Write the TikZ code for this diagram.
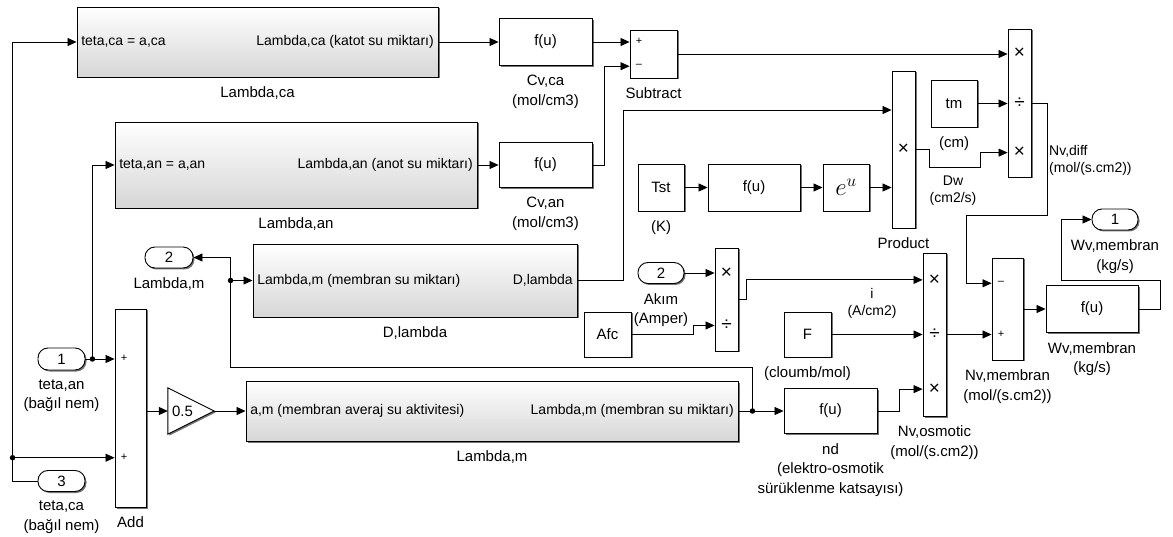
\documentclass[tikz,border=0pt]{standalone}
\usepackage{fontspec}
\setmainfont{Liberation Sans}
\usetikzlibrary{arrows.meta,positioning,calc,shadows}
\newcommand\blkfont{\fontsize{15}{19.5}\selectfont}
\newcommand\sigfont{\fontsize{14}{17}\selectfont}

\begin{document}
\begin{tikzpicture}[x=1pt,y=-1pt,node distance=8pt,>={Triangle[length=9pt,width=8pt]},
  font=\blkfont,
  sz/.style 2 args={minimum width=#1pt,minimum height=#2pt},
  blk/.style={draw,fill=white,line width=0.9pt,inner sep=0pt,
    drop shadow={shadow xshift=1.5pt,shadow yshift=-1.5pt,fill=black!55,opacity=1}},
  sys/.style={blk,top color=white,bottom color=black!16},
  port/.style={blk,rounded corners=10pt,sz={46}{21}},
  ptxt/.style={font=\sigfont,inner sep=4.5pt},
  bname/.style={align=center,inner sep=1pt},
  sig/.style={font=\sigfont,align=center,inner sep=1pt},
  sgn/.style={font=\fontsize{11}{11}\selectfont,inner sep=1pt},
  msgn/.style={font=\fontsize{19}{19}\selectfont,inner sep=0pt},
  dot/.style={circle,fill,inner sep=0pt,minimum size=5.5pt},
  wire/.style={->,line width=0.8pt}]
\useasboundingbox (0,0) rectangle (1173,537);

% subsystems
\node[sys,sz={361}{70}] (lca) at (257.5,42) {};
\node[ptxt,anchor=west] (lca-in) at (lca.west) {teta,ca = a,ca};
\node[ptxt,anchor=east] (lca-out) at (lca.east) {Lambda,ca (katot su miktarı)};
\node[bname,below=of lca] (lca-lbl) {Lambda,ca};

\node[sys,sz={362}{86}] (lan) at (296,165) {};
\node[ptxt,anchor=west] (lan-in) at (lan.west) {teta,an = a,an};
\node[ptxt,anchor=east] (lan-out) at (lan.east) {Lambda,an (anot su miktarı)};
\node[bname,below=of lan] (lan-lbl) {Lambda,an};

\node[sys,sz={324}{73}] (dlam) at (415,280.5) {};
\node[ptxt,anchor=west] (dlam-in) at (dlam.west) {Lambda,m (membran su miktarı)};
\node[ptxt,anchor=east] (dlam-out) at (dlam.east) {D,lambda};
\node[bname,below=of dlam] (dlam-lbl) {D,lambda};

\node[sys,sz={492}{60}] (lm) at (492,411) {};
\node[ptxt,anchor=west] (lm-in) at (lm.west) {a,m (membran averaj su aktivitesi)};
\node[ptxt,anchor=east] (lm-out) at (lm.east) {Lambda,m (membran su miktarı)};
\node[bname,below=of lm] (lm-lbl) {Lambda,m};

% water concentration
\node[blk,sz={93}{47}] (fca) at (545.5,42) {f(u)};
\node[bname,below=of fca] (fca-lbl) {Cv,ca\\(mol/cm3)};
\node[blk,sz={93}{45}] (fan) at (545.5,165) {f(u)};
\node[bname,below=of fan] (fan-lbl) {Cv,an\\(mol/cm3)};
\node[blk,sz={47}{48}] (sub) at (653.5,54) {};
\node[bname,below=of sub] (sub-lbl) {Subtract};

% diffusion
\node[blk,sz={46}{47}] (tst) at (661,187.5) {Tst};
\node[bname,below=of tst] (tst-lbl) {(K)};
\node[blk,sz={92}{47}] (ftst) at (754,187.5) {f(u)};
\node[blk,sz={46}{47},font=\fontsize{25}{25}\selectfont] (eu) at (846,187.5) {$e^{u}$};
\node[blk,sz={23}{157}] (prod) at (903.5,149.5) {};
\node[bname,below=of prod] (prod-lbl) {Product};
\node[blk,sz={46}{47}] (tm) at (954,103.5) {tm};
\node[bname,below=of tm] (tm-lbl) {(cm)};
\node[blk,sz={23}{148}] (nvd) at (1019.5,103) {};

% osmotic drag
\node[port] (akim) at (661,273) {2};
\node[bname,below=of akim] (akim-lbl) {Akım\\(Amper)};
\node[blk,sz={47}{45}] (afc) at (607.5,334.5) {Afc};
\node[blk,sz={23}{103}] (mi) at (726.5,299.5) {};
\node[blk,sz={47}{45}] (fcon) at (807.5,334.5) {F};
\node[bname,below=of fcon] (fcon-lbl) {(cloumb/mol)};
\node[blk,sz={93}{45}] (nd) at (830.5,411) {f(u)};
\node[bname,below=of nd] (nd-lbl) {nd\\(elektro-osmotik\\sürüklenme katsayısı)};
\node[blk,sz={23}{163}] (nvo) at (934.5,334.5) {};
\node[bname,below=of nvo] (nvo-lbl) {Nv,osmotic\\(mol/(s.cm2))};

% membrane flux
\node[blk,sz={31}{102}] (summ) at (1007.5,309) {};
\node[bname,below=of summ] (summ-lbl) {Nv,membran\\(mol/(s.cm2))};
\node[blk,sz={92}{47}] (wv) at (1092,309) {f(u)};
\node[bname,below=of wv] (wv-lbl) {Wv,membran\\(kg/s)};
\node[port] (out1) at (1115,219.5) {1};
\node[bname,below=of out1] (out1-lbl) {Wv,membran\\(kg/s)};

% inputs
\node[port,sz={48}{21}] (out2) at (169,257.5) {2};
\node[bname,below=of out2] (out2-lbl) {Lambda,m};
\node[port,sz={47}{22}] (in1) at (61.5,359) {1};
\node[bname,below=of in1] (in1-lbl) {teta,an\\(bağıl nem)};
\node[port,sz={47}{21}] (in3) at (61.5,481) {3};
\node[bname,below=of in3] (in3-lbl) {teta,ca\\(bağıl nem)};
\node[blk,sz={31}{198}] (add) at (130.5,408) {};
\node[bname,below=of add] (add-lbl) {Add};
\node[sz={46}{46},inner sep=0pt] (gain) at (191,411) {};
\fill[black!55] ([shift={(1.5pt,-1.5pt)}]gain.north west) -- ([shift={(1.5pt,-1.5pt)}]gain.east)
  -- ([shift={(1.5pt,-1.5pt)}]gain.south west) -- cycle;
\draw[line width=0.9pt,fill=white] (gain.north west) -- (gain.east) -- (gain.south west) -- cycle;
\node[sz={46}{46},text width=38pt,inner sep=1pt] (gain-txt) at (gain) {0.5};

% input points and signs
\foreach \bk/\fr/\ix in {sub/0.25/1,sub/0.75/2,add/0.25/1,add/0.75/2,prod/0.25/1,prod/0.75/2,
    mi/0.25/1,mi/0.75/2,summ/0.25/1,summ/0.75/2,nvd/0.1667/1,nvd/0.5/2,nvd/0.8333/3,
    nvo/0.1667/1,nvo/0.5/2,nvo/0.8333/3}
  \coordinate (\bk-i\ix) at ($(\bk.north west)!\fr!(\bk.south west)$);
\foreach \c/\s in {sub-i1/+,sub-i2/–,add-i1/+,add-i2/+,summ-i1/–,summ-i2/+}
  \node[sgn,anchor=west] (\c-s) at ($(\c)+(5,0)$) {\s};
\foreach \bk/\ix/\s in {nvd/1/×,nvd/2/÷,nvd/3/×,mi/1/×,mi/2/÷,nvo/1/×,nvo/2/÷,nvo/3/×}
  \node[msgn] (\bk-s\ix) at (\bk.center |- \bk-i\ix) {\s};
\node[msgn] (prod-s) at (prod.center) {×};

% signal labels
\node[sig] (dw-lbl) at (953,190.5) {Dw\\(cm2/s)};
\node[sig] (i-lbl) at (872,303) {i\\(A/cm2)};
\node[sig,align=left,anchor=west] (nvd-lbl) at (1048,160.5) {Nv,diff\\(mol/(s.cm2))};

% junctions
\node[dot] (j3) at ($(in3.west |- add-i2)+(-25,0)$) {};
\node[dot] (j1) at ($(in1.east)+(7,0)$) {};
\node[dot] (j2) at ($(dlam.west)+(-22,0)$) {};
\node[dot] (j4) at ($(lm.east)+(14,0)$) {};

% wires
\draw[wire] (in3.west) -| (j3.center) |- (lca.west);
\draw[wire] (j3.center) -- (j3.center -| add.west);
\draw[line width=0.8pt] (in1.east) -- (j1.center);
\draw[wire] (j1.center) -- (j1.center -| add.west);
\draw[wire] (j1.center) |- (lan.west);
\draw[wire] (add.east |- gain.west) -- (gain.west);
\draw[wire] (gain.east) -- (gain.east -| lm.west);
\draw[line width=0.8pt] (lm.east) -- (j4.center);
\draw[wire] (j4.center) -- (nd.west);
\draw[wire] (j4.center) -- ++(0,-44) -| (j2.center) |- (out2.east);
\draw[wire] (j2.center) -- (dlam.west);
\draw[wire] (dlam.east) -- ++(46,0) |- (prod-i1);
\draw[wire] (lca.east) -- (fca.west);
\draw[wire] (lan.east) -- (fan.west);
\draw[wire] (fca.east) -- (fca.east -| sub.west);
\draw[wire] (fan.east) -- ++(12,0) |- (sub-i2);
\draw[wire] (sub.east) -- (sub.east -| nvd.west);
\draw[wire] (tst.east) -- (ftst.west);
\draw[wire] (ftst.east) -- (eu.west);
\draw[wire] (eu.east) -- (eu.east -| prod.west);
\draw[wire] (prod.east) -- ++(14,0) -- ++(0,17.5) -- ++(51,0) |- (nvd-i3);
\draw[wire] (tm.east) -- (tm.east -| nvd.west);
\draw[wire] (nvd.east) -- ++(16,0) -- ++(0,112) -- ++(-81,0) |- (summ-i1);
\draw[wire] (akim.east) -- (akim.east -| mi.west);
\draw[wire] (afc.east) -- ++(62,0) |- (mi-i2);
\draw[wire] (mi.east) -- ++(8,0) |- (nvo-i1);
\draw[wire] (fcon.east) -- (fcon.east -| nvo.west);
\draw[wire] (nd.east) -- ++(22,0) |- (nvo-i3);
\draw[wire] (nvo.east) -- (nvo.east -| summ.west);
\draw[wire] (summ.east) -- (wv.west);
\draw[wire] (wv.east) -- ++(22,0) -- ++(0,-29) -- ++(-99,0) |- (out1.west);
\end{tikzpicture}
\end{document}
